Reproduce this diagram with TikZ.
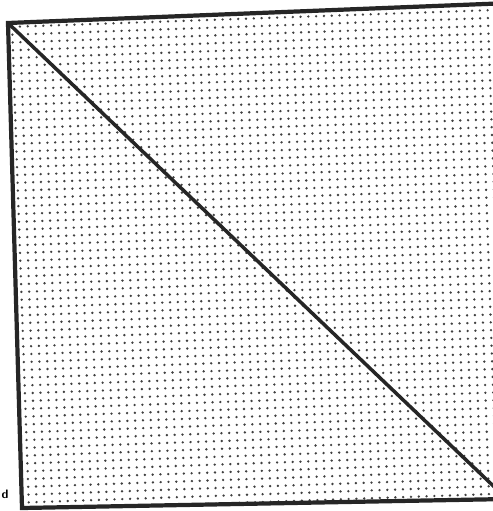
\documentclass[tikz,border=0pt]{standalone}
\usepackage{tikz}
\usetikzlibrary{calc}

\begin{document}
\begin{tikzpicture}[
  x=0.02cm, y=-0.02cm,
  edge/.style={line width=2.4pt, black!85, line join=miter},
  cut/.style={line width=2pt, black!85},
  dotfill/.style={fill=black!75}
]
\useasboundingbox (0,0) rectangle (493,511);
% corners of the (slightly tilted) square, right side runs off the page
\coordinate (tl) at (8,23);
\coordinate (tr) at (510,3);
\coordinate (br) at (507,499);
\coordinate (bl) at (22,508);

% stippled fill
\begin{scope}
  \clip (tl) -- (tr) -- (br) -- (bl) -- cycle;
  \begin{scope}[shift={(8,23)}, rotate=2]
    \foreach \i in {-1,...,66}
      \foreach \j in {-1,...,66}
        \fill[dotfill] (\i*7.8+4, \j*7.8+4) circle[radius=0.75pt];
  \end{scope}
\end{scope}

\draw[edge] (tl) -- (tr) -- (br) -- (bl) -- cycle;
\draw[cut] (tl) -- (br);

\node[font=\sffamily\bfseries\fontsize{7}{8}\selectfont, inner sep=0pt] (lab) at (5,494) {d};
\end{tikzpicture}
\end{document}
